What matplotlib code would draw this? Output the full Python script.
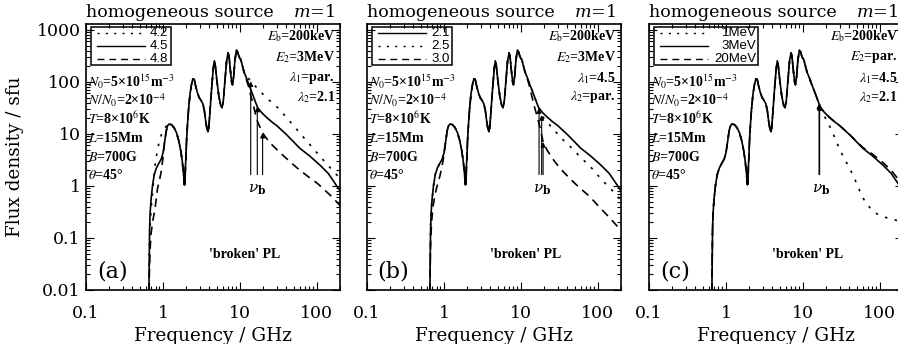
import numpy as np
import matplotlib
matplotlib.use("Agg")
import matplotlib.pyplot as plt
from matplotlib.patches import Rectangle
from matplotlib.ticker import LogLocator, NullFormatter, FuncFormatter

plt.rcParams['font.family'] = 'serif'
plt.rcParams['font.serif'] = ['DejaVu Serif']
plt.rcParams['mathtext.fontset'] = 'stix'

#%% Daten, Frequenz in GHz, Fluss in sfu

# gemeinsamer Teil (Harmonische), fuer alle Kurven gleich
f_core = [1.15, 1.2, 1.3, 1.4, 1.5, 1.6, 1.7, 1.78, 1.85, 1.9,
          1.92, 1.935, 1.955, 1.98, 2.02, 2.08, 2.15, 2.25, 2.35, 2.45,
          2.55, 2.65, 2.8, 2.95, 3.1, 3.3, 3.45, 3.6, 3.75, 3.85,
          3.95, 4.1, 4.3, 4.5, 4.65, 4.8, 5.0, 5.3, 5.6, 5.85,
          6.1, 6.4, 6.7, 7.0, 7.2, 7.5, 7.8, 8.0, 8.3, 8.6,
          9.0, 9.3, 9.7, 10.0, 10.2, 10.4, 10.8, 11.3]
s_core = [14.5, 15.5, 15, 13, 10.5, 7.5, 4.8, 3.0, 1.7, 1.05,
          1.9, 1.1, 2.3, 3.2, 7, 15, 30, 60, 90, 115,
          112, 85, 62, 50, 45, 38, 28, 17, 12, 11,
          14, 30, 80, 180, 255, 200, 110, 55, 36, 32,
          45, 110, 250, 360, 320, 170, 100, 88, 130, 260,
          410, 380, 310, 280, 275, 250, 200, 155]

# niederfrequenter Anstieg
f_lo_std = [0.655, 0.66, 0.665, 0.67, 0.68, 0.70, 0.73, 0.77, 0.82, 0.88, 0.95, 1.0, 1.05, 1.1]
s_lo_std = [0.005, 0.02, 0.06, 0.15, 0.3, 0.55, 1.0, 1.65, 2.2, 2.7, 3.3, 4.3, 7.0, 11.5]
f_lo_42 = [0.655, 0.66, 0.67, 0.69, 0.71, 0.74, 0.77, 0.80, 0.84, 0.89, 0.95, 1.0, 1.05, 1.1]
s_lo_42 = [0.005, 0.02, 0.1, 0.25, 0.45, 0.9, 1.7, 3.0, 4.5, 7.0, 9.5, 11.5, 13, 14]
f_lo_48 = [0.655, 0.665, 0.68, 0.70, 0.73, 0.77, 0.81, 0.85, 0.90, 0.94, 1.0, 1.05, 1.1]
s_lo_48 = [0.005, 0.02, 0.06, 0.12, 0.2, 0.3, 0.5, 0.9, 1.3, 1.75, 3.5, 7.0, 11.0]
f_lo_30 = [0.655, 0.66, 0.67, 0.69, 0.72, 0.76, 0.80, 0.88, 0.95, 1.0, 1.05, 1.1]
s_lo_30 = [0.005, 0.02, 0.08, 0.2, 0.4, 0.65, 0.9, 1.5, 2.5, 4.0, 7.0, 11.5]

# hochfrequente Auslaeufer
f_hi_std = [12, 13, 14, 15, 16, 17, 19, 22, 26, 30, 40, 50, 60, 80, 110, 140, 170, 200]
s_hi_std = [125, 90, 68, 52, 40, 32, 26, 21, 17, 14.5, 9.8, 7.0, 5.3, 3.8, 2.5, 1.75, 1.15, 0.8]
f_hi_42 = [12, 13, 13.8, 15, 18, 22, 26, 31, 40, 54, 70, 98, 130, 170, 200]
s_hi_42 = [135, 115, 103, 90, 68, 50, 40, 32, 21, 12.5, 8.0, 4.5, 2.8, 1.8, 1.4]
f_hi_48 = [12, 13, 13.5, 15, 16.5, 18, 19.7, 22, 26, 33, 45, 60, 80, 103, 130, 160, 200]
s_hi_48 = [115, 80, 62, 35, 19, 14, 10.5, 8.3, 6.2, 4.4, 2.9, 2.0, 1.45, 1.1, 0.8, 0.6, 0.42]
f_hi_25 = [12, 13, 14, 15, 16, 17, 18.6, 21, 25, 29, 36, 48, 60, 79, 100, 116, 140, 165, 200]
s_hi_25 = [125, 90, 68, 52, 40, 32, 23, 18, 13.5, 10.5, 7.5, 5.0, 3.5, 2.4, 1.6, 1.25, 0.95, 0.73, 0.52]
f_hi_30 = [12, 13, 14, 15, 16.5, 18, 19.4, 22, 26, 32, 43, 56, 79, 100, 140, 200]
s_hi_30 = [122, 80, 50, 33, 20, 12, 7.0, 4.8, 3.3, 2.2, 1.4, 0.96, 0.62, 0.42, 0.25, 0.14]
f_hi_1mev = [12, 13, 14, 15, 16, 17, 18, 20, 23.5, 28.6, 33, 37, 45, 50, 56, 64, 78, 95, 122, 170, 200]
s_hi_1mev = [125, 90, 68, 52, 40, 32, 26, 19, 12, 6.0, 3.8, 2.8, 1.6, 1.1, 0.75, 0.5, 0.35, 0.28, 0.245, 0.215, 0.2]
f_hi_20mev = [12, 13, 14, 15, 16, 17, 19, 22, 26, 30, 40, 50, 60, 80, 110, 140, 170, 200]
s_hi_20mev = [125, 90, 68, 52, 40, 32, 26, 21, 17, 14.5, 9.9, 7.2, 5.5, 4.1, 2.8, 2.0, 1.4, 1.0]

# Bruchfrequenzen nu_b (Pfeile)
nub_a = [13.8, 16.8, 19.7]
nub_b = [17.2, 18.6, 19.4]
nub_c = [16.2, 16.5]

legend_a = ['4.2', '4.5', '4.8']
legend_b = ['2.1', '2.5', '3.0']
legend_c = ['1MeV', '3MeV', '20MeV']

params_left = [r'$N_0$=5×10$^{15}$m$^{-3}$', r'$N/N_0$=2×10$^{-4}$', r'$T$=8×10$^6$K',
               r'$L$=15Mm', r'$B$=700G', r'$\theta$=45°']
params_a = [r'$E_\mathrm{b}$=200keV', r'$E_2$=3MeV', r'$\lambda_1$=par.', r'$\lambda_2$=2.1']
params_b = [r'$E_\mathrm{b}$=200keV', r'$E_2$=3MeV', r'$\lambda_1$=4.5', r'$\lambda_2$=par.']
params_c = [r'$E_\mathrm{b}$=200keV', r'$E_2$=par.', r'$\lambda_1$=4.5', r'$\lambda_2$=2.1']

#%% Kurven zusammensetzen
def spec(lo_f, lo_s, hi_f, hi_s):
    return np.array(lo_f + f_core + hi_f), np.array(lo_s + s_core + hi_s)

DOT = (0, (1.5, 4.5))
SOLID = '-'
DASH = (0, (5, 3.5))

curves_a = [(spec(f_lo_42, s_lo_42, f_hi_42, s_hi_42), DOT),
            (spec(f_lo_std, s_lo_std, f_hi_std, s_hi_std), SOLID),
            (spec(f_lo_48, s_lo_48, f_hi_48, s_hi_48), DASH)]
curves_b = [(spec(f_lo_std, s_lo_std, f_hi_std, s_hi_std), SOLID),
            (spec(f_lo_std, s_lo_std, f_hi_25, s_hi_25), DOT),
            (spec(f_lo_30, s_lo_30, f_hi_30, s_hi_30), DASH)]
curves_c = [(spec(f_lo_std, s_lo_std, f_hi_1mev, s_hi_1mev), DOT),
            (spec(f_lo_std, s_lo_std, f_hi_std, s_hi_std), SOLID),
            (spec(f_lo_std, s_lo_std, f_hi_20mev, s_hi_20mev), DASH)]

#%% Plot
fig = plt.figure(figsize=(8.98, 3.44), dpi=100)
TXT = dict(family='Liberation Serif', fontweight='bold', fontsize=10)

def panel(left, curves, legend, text_right, leg_right, params_r, nub, arrow_curves, letter, nub_label_x):
    ax = fig.add_axes([left, 0.157, 0.2829, 0.7733])
    ax.set_xscale('log')
    ax.set_yscale('log')
    ax.set_xlim(0.1, 200)
    ax.set_ylim(0.01, 1300)

    for (f, s), ls in curves:
        ax.plot(f, s, color='k', lw=1.2, linestyle=ls)

    # Pfeile bei nu_b
    for nu, ci in zip(nub, arrow_curves):
        (f, s), ls = curves[ci]
        tip = 10 ** np.interp(np.log10(nu), np.log10(f), np.log10(s))
        ax.annotate('', xy=(nu, tip), xytext=(nu, 1.65),
                    arrowprops=dict(arrowstyle='-|>', color='k', lw=0.8,
                                    mutation_scale=7, shrinkA=0, shrinkB=0))
    ax.text(nub_label_x, 0.85, r'$\nu_\mathbf{b}$', ha='center', va='center', fontsize=11,
            math_fontfamily='dejavuserif')

    # Achsen
    ax.xaxis.set_major_locator(LogLocator(base=10, numticks=10))
    ax.xaxis.set_minor_locator(LogLocator(base=10, subs=np.arange(2, 10), numticks=20))
    ax.yaxis.set_major_locator(LogLocator(base=10, numticks=10))
    ax.yaxis.set_minor_locator(LogLocator(base=10, subs=np.arange(2, 10), numticks=20))
    ax.xaxis.set_minor_formatter(NullFormatter())
    ax.yaxis.set_minor_formatter(NullFormatter())
    ax.xaxis.set_major_formatter(FuncFormatter(lambda v, p: '%g' % v))
    ax.yaxis.set_major_formatter(FuncFormatter(lambda v, p: '%g' % v))
    ax.tick_params(which='both', direction='in', top=True, right=True, width=0.8)
    ax.tick_params(which='major', length=6, labelsize=12.5)
    ax.tick_params(which='minor', length=3)
    ax.tick_params(axis='x', which='major', pad=11)
    ax.tick_params(axis='y', which='major', pad=4)
    for sp in ax.spines.values():
        sp.set_linewidth(1.2)
    ax.set_xlabel('Frequency / GHz', fontsize=13.2)
    ax.xaxis.set_label_coords(0.5, -0.139)

    # Titel
    ax.text(0.0, 1.026, 'homogeneous source', transform=ax.transAxes, ha='left',
            va='baseline', fontsize=12.6)
    ax.text(0.98, 1.026, r'$m$=1', transform=ax.transAxes, ha='right',
            va='baseline', fontsize=12.6, math_fontfamily='dejavuserif')

    # Legende (Kasten von Hand)
    ys = [0.967, 0.918, 0.869]
    ax.add_patch(Rectangle((0.018, 0.846), leg_right - 0.018, 0.987 - 0.846,
                           transform=ax.transAxes, fill=False, lw=1.1, ec='k'))
    for ((f, s), ls), lab, y in zip(curves, legend, ys):
        ax.plot([0.045, 0.232], [y, y], transform=ax.transAxes, color='k', lw=1.0, linestyle=ls)
        ax.text(text_right, y, lab, transform=ax.transAxes, ha='right', va='center',
                family='Liberation Sans', fontsize=9.5)

    # Parameter
    for txt, y in zip(params_left, [0.783, 0.714, 0.645, 0.570, 0.501, 0.432]):
        ax.text(0.008, y, txt, transform=ax.transAxes, ha='left', va='center', **TXT)
    for txt, y in zip(params_r, [0.955, 0.876, 0.797, 0.726]):
        ax.text(0.98, y, txt, transform=ax.transAxes, ha='right', va='center', **TXT)

    ax.text(0.625, 0.132, "'broken' PL", transform=ax.transAxes, ha='center', va='center', **TXT)
    ax.text(0.103, 0.068, letter, transform=ax.transAxes, ha='center', va='center', fontsize=16)
    return ax

ax_a = panel(0.0958, curves_a, legend_a, 0.324, 0.335, params_a, nub_a, [0, 1, 2], '(a)', 16.6)
ax_b = panel(0.4087, curves_b, legend_b, 0.327, 0.335, params_b, nub_b, [0, 1, 2], '(b)', 18.6)
ax_c = panel(0.7227, curves_c, legend_c, 0.424, 0.429, params_c, nub_c, [1, 1], '(c)', 17.1)

ax_a.set_ylabel('Flux density / sfu', fontsize=13.2)
ax_a.yaxis.set_label_coords(-0.244, 0.5)
ax_b.set_yticklabels([])
ax_c.set_yticklabels([])

fig.savefig('out.png', dpi=100)
